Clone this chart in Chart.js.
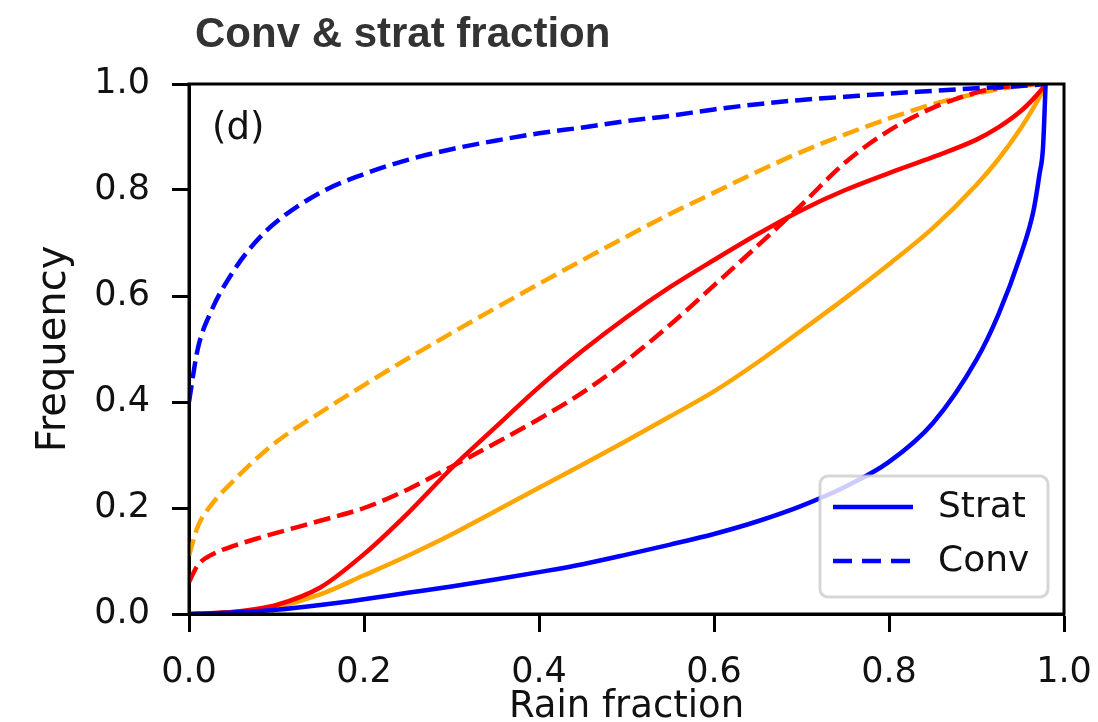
<!DOCTYPE html>
<html>
<head>
<meta charset="utf-8">
<script src="https://cdn.jsdelivr.net/npm/chart.js@4.4.1/dist/chart.umd.min.js"></script>
<style>
  html, body { margin: 0; padding: 0; background: #fff; }
  #wrap { width: 1098px; height: 722px; }
</style>
</head>
<body>
<div id="wrap"><canvas id="chart" width="1098" height="722"></canvas></div>
<script>
// x values (rain fraction) shared by every curve
const rainFraction = [0, 0.01, 0.025, 0.05, 0.075, 0.1, 0.15, 0.2, 0.25, 0.3, 0.35, 0.4, 0.45, 0.5,
  0.55, 0.6, 0.65, 0.7, 0.75, 0.8, 0.85, 0.9, 0.925, 0.95, 0.965, 0.972, 0.976, 0.979];

const blueStrat = [0, 0.0005, 0.001, 0.003, 0.005, 0.008, 0.017, 0.028, 0.04, 0.052, 0.065, 0.079, 0.094, 0.112,
  0.131, 0.151, 0.175, 0.204, 0.24, 0.287, 0.36, 0.48, 0.565, 0.675, 0.76, 0.83, 0.88, 1.0];
const blueConv = [0.40, 0.50, 0.57, 0.645, 0.70, 0.74, 0.795, 0.83, 0.857, 0.877, 0.893, 0.907, 0.918, 0.93,
  0.94, 0.952, 0.962, 0.97, 0.976, 0.982, 0.987, 0.992, 0.994, 0.996, 0.998, 0.999, 1.0, 1.0];
const redStrat = [0, 0.0005, 0.0015, 0.004, 0.009, 0.017, 0.05, 0.113, 0.19, 0.275, 0.352, 0.428, 0.497, 0.56,
  0.617, 0.668, 0.717, 0.762, 0.80, 0.832, 0.862, 0.895, 0.918, 0.948, 0.972, 0.985, 0.993, 1.0];
const redConv = [0.06, 0.092, 0.111, 0.128, 0.141, 0.153, 0.176, 0.20, 0.235, 0.278, 0.322, 0.368, 0.418, 0.478,
  0.546, 0.62, 0.695, 0.772, 0.852, 0.912, 0.955, 0.984, 0.993, 0.998, 1.0, 1.0, 1.0, 1.0];
const orangeStrat = [0, 0.0005, 0.001, 0.004, 0.007, 0.013, 0.037, 0.073, 0.11, 0.15, 0.194, 0.238, 0.282, 0.327,
  0.373, 0.42, 0.475, 0.535, 0.596, 0.66, 0.728, 0.81, 0.858, 0.915, 0.955, 0.975, 0.988, 1.0];
const orangeConv = [0.11, 0.165, 0.205, 0.25, 0.29, 0.325, 0.38, 0.432, 0.482, 0.53, 0.577, 0.623, 0.668, 0.712,
  0.755, 0.795, 0.835, 0.872, 0.905, 0.935, 0.962, 0.982, 0.99, 0.996, 0.999, 1.0, 1.0, 1.0];

const tickValues = [0, 0.2, 0.4, 0.6, 0.8, 1.0];
const legendLabels = ['Strat', 'Conv'];
const chartTitle = 'Conv & strat fraction';
const panelLabel = '(d)';

const DASH = [17, 7];
const tickFont = { family: 'DejaVu Sans', size: 35 };

const mk = (ys, color, dashed) => ({
  data: rainFraction.map((x, i) => ({ x, y: ys[i] })),
  borderColor: color,
  borderWidth: 4.5,
  borderDash: dashed ? DASH : [],
  pointRadius: 0,
  fill: false,
  cubicInterpolationMode: 'monotone'
});

// title, panel label, legend box and full axes frame
const decor = {
  id: 'decor',
  afterDatasetsDraw(chart) {
    const { ctx, chartArea: a } = chart;
    ctx.save();
    ctx.strokeStyle = '#000';
    ctx.lineWidth = 3;
    ctx.strokeRect(a.left, a.top, a.right - a.left, a.bottom - a.top);

    // legend
    const w = 228, h = 121;
    const lx = a.right - 16 - w, ly = a.bottom - 17 - h;
    ctx.beginPath();
    ctx.roundRect(lx, ly, w, h, 8);
    ctx.fillStyle = 'rgba(255,255,255,0.8)';
    ctx.fill();
    ctx.strokeStyle = 'rgba(204,204,204,0.8)';
    ctx.lineWidth = 3;
    ctx.stroke();
    legendLabels.forEach((lab, i) => {
      const y = ly + 31 + i * 54;
      ctx.beginPath();
      ctx.setLineDash(i === 1 ? [19, 10] : []);
      ctx.strokeStyle = '#0000ff';
      ctx.lineWidth = 4.5;
      ctx.moveTo(lx + 13, y);
      ctx.lineTo(lx + 93, y);
      ctx.stroke();
      ctx.setLineDash([]);
      ctx.fillStyle = '#111';
      ctx.font = '36px "DejaVu Sans"';
      ctx.textBaseline = 'middle';
      ctx.textAlign = 'left';
      ctx.fillText(lab, lx + 118, y + 1);
    });

    ctx.fillStyle = '#111';
    ctx.font = '37px "DejaVu Sans"';
    ctx.textBaseline = 'alphabetic';
    ctx.fillText(panelLabel, a.left + 23, a.top + 55);

    ctx.fillStyle = '#333';
    ctx.font = 'bold 42px "Liberation Sans", Arial, sans-serif';
    ctx.fillText(chartTitle, a.left + 6, a.top - 37);
    ctx.restore();
  }
};

new Chart(document.getElementById('chart'), {
  type: 'line',
  data: {
    datasets: [
      mk(blueStrat, '#0000ff', false),
      mk(blueConv, '#0000ff', true),
      mk(redStrat, '#ff0000', false),
      mk(redConv, '#ff0000', true),
      mk(orangeStrat, '#ffa500', false),
      mk(orangeConv, '#ffa500', true)
    ]
  },
  options: {
    responsive: false,
    animation: false,
    layout: { padding: { top: 84, right: 34, bottom: 0, left: 0 } },
    plugins: { legend: { display: false }, tooltip: { enabled: false } },
    scales: {
      x: {
        type: 'linear', min: 0, max: 1,
        afterBuildTicks: (s) => { s.ticks = tickValues.map(v => ({ value: v })); },
        afterFit: (s) => { s.height = 108; s.paddingLeft = 0; s.paddingRight = 0; },
        border: { color: '#000', width: 3 },
        grid: { drawOnChartArea: false, tickLength: 18, tickColor: '#000', tickWidth: 3 },
        ticks: { color: '#111', font: tickFont, padding: 20, maxRotation: 0,
          callback: (v) => Number(v).toFixed(1) },
        title: { display: true, text: 'Rain fraction', color: '#111',
          font: { family: 'DejaVu Sans', size: 37, lineHeight: 0.8 }, padding: { top: 0, bottom: 0 } }
      },
      y: {
        type: 'linear', min: 0, max: 1,
        afterBuildTicks: (s) => { s.ticks = tickValues.map(v => ({ value: v })); },
        afterFit: (s) => { s.width = 189; s.paddingTop = 0; s.paddingBottom = 0; },
        border: { color: '#000', width: 3 },
        grid: { drawOnChartArea: false, tickLength: 17, tickColor: '#000', tickWidth: 3 },
        ticks: { color: '#111', font: tickFont, padding: 22,
          callback: (v) => Number(v).toFixed(1) },
        title: { display: true, text: 'Frequency', color: '#111',
          font: { family: 'DejaVu Sans', size: 40, lineHeight: 1.2 }, padding: { top: 31, bottom: 0 } }
      }
    }
  },
  plugins: [decor]
});
</script>
</body>
</html>
